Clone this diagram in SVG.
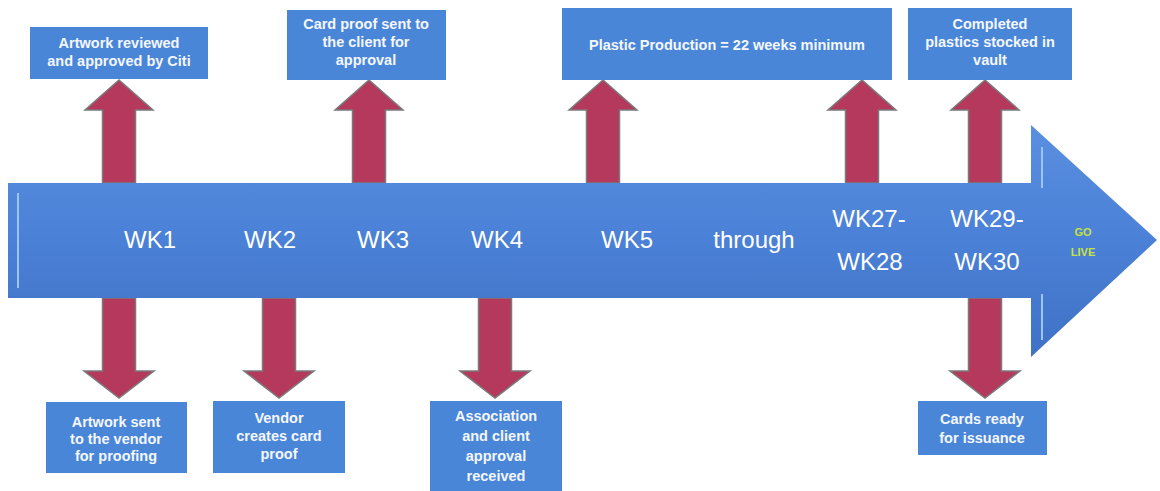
<svg xmlns="http://www.w3.org/2000/svg" width="1160" height="491" viewBox="0 0 1160 491">
<defs>
<linearGradient id="bodyGrad" x1="0" y1="0" x2="0" y2="1">
<stop offset="0" stop-color="#5a8fe0"/>
<stop offset="0.5" stop-color="#4a80d6"/>
<stop offset="1" stop-color="#3f72c6"/>
</linearGradient>
<path id="upArrow" d="M-16.5,103 L-16.5,30 L-34,30 L0,0 L34,30 L16.5,30 L16.5,103 Z"/>
<path id="downArrow" d="M-16.5,0 L-16.5,73 L-35,73 L0,100 L35,73 L16.5,73 L16.5,0 Z"/>
</defs>
<style>
.box{fill:#4a86d8;}
.btxt{font-family:"Liberation Sans",Arial,sans-serif;font-size:14.5px;font-weight:bold;fill:#f4f7fd;text-anchor:middle;}
.wk{font-family:"Liberation Sans",Arial,sans-serif;font-size:24px;fill:#ffffff;text-anchor:middle;}
.go{font-family:"Liberation Sans",Arial,sans-serif;font-size:11px;font-weight:bold;fill:#c9e23c;text-anchor:middle;}
.arr{fill:#b5395d;stroke:#7a7a7a;stroke-width:1.5;stroke-linejoin:miter;}
.hl{stroke:#9cc4f5;stroke-width:2;fill:none;}
</style>
<rect width="1160" height="491" fill="#ffffff"/>

<g id="connectors">
<use href="#upArrow" class="arr" x="119" y="80"/>
<use href="#upArrow" class="arr" x="369" y="80"/>
<use href="#upArrow" class="arr" x="603" y="80"/>
<use href="#upArrow" class="arr" x="862" y="80"/>
<use href="#upArrow" class="arr" x="985" y="80"/>
<use href="#downArrow" class="arr" x="119" y="298"/>
<use href="#downArrow" class="arr" x="279" y="298"/>
<use href="#downArrow" class="arr" x="495" y="298"/>
<use href="#downArrow" class="arr" x="985" y="298"/>
</g>

<g id="timeline">
<path d="M8,183 L1031,183 L1031,125 L1157,240 L1031,357 L1031,298 L8,298 Z" fill="url(#bodyGrad)"/>
<line class="hl" x1="18" y1="193" x2="18" y2="288"/>
<line class="hl" x1="1042" y1="147" x2="1042" y2="188"/>
<line class="hl" x1="1042" y1="294" x2="1042" y2="340"/>
<text class="wk" x="150" y="248">WK1</text>
<text class="wk" x="270" y="248">WK2</text>
<text class="wk" x="383" y="248">WK3</text>
<text class="wk" x="497" y="248">WK4</text>
<text class="wk" x="627" y="248">WK5</text>
<text class="wk" x="754" y="248">through</text>
<text class="wk" x="869" y="227">WK27-</text>
<text class="wk" x="870" y="270">WK28</text>
<text class="wk" x="987" y="227">WK29-</text>
<text class="wk" x="987" y="270">WK30</text>
<text class="go" x="1083" y="236">GO</text>
<text class="go" x="1083" y="256">LIVE</text>
</g>

<g id="box-artwork-reviewed">
<rect class="box" x="30" y="27" width="178" height="52"/>
<text class="btxt" x="119" y="48">Artwork reviewed</text>
<text class="btxt" x="119" y="66">and approved by Citi</text>
</g>
<g id="box-card-proof-sent">
<rect class="box" x="287" y="10" width="159" height="70"/>
<text class="btxt" x="366" y="29">Card proof sent to</text>
<text class="btxt" x="366" y="47">the client for</text>
<text class="btxt" x="366" y="65">approval</text>
</g>
<g id="box-plastic-production">
<rect class="box" x="562" y="8" width="330" height="72"/>
<text class="btxt" x="727" y="50">Plastic Production = 22 weeks minimum</text>
</g>
<g id="box-completed-plastics">
<rect class="box" x="908" y="8" width="164" height="72"/>
<text class="btxt" x="990" y="29">Completed</text>
<text class="btxt" x="990" y="47">plastics stocked in</text>
<text class="btxt" x="990" y="65">vault</text>
</g>
<g id="box-artwork-sent">
<rect class="box" x="46" y="402" width="141" height="71"/>
<text class="btxt" x="116" y="427">Artwork sent</text>
<text class="btxt" x="116" y="444">to the vendor</text>
<text class="btxt" x="116" y="461">for proofing</text>
</g>
<g id="box-vendor-creates">
<rect class="box" x="213" y="401" width="132" height="72"/>
<text class="btxt" x="279" y="423">Vendor</text>
<text class="btxt" x="279" y="441">creates card</text>
<text class="btxt" x="279" y="459">proof</text>
</g>
<g id="box-association-approval">
<rect class="box" x="430" y="401" width="132" height="90"/>
<text class="btxt" x="496" y="421">Association</text>
<text class="btxt" x="496" y="441">and client</text>
<text class="btxt" x="496" y="461">approval</text>
<text class="btxt" x="496" y="481">received</text>
</g>
<g id="box-cards-ready">
<rect class="box" x="918" y="401" width="129" height="54"/>
<text class="btxt" x="982" y="424">Cards ready</text>
<text class="btxt" x="982" y="443">for issuance</text>
</g>
</svg>
